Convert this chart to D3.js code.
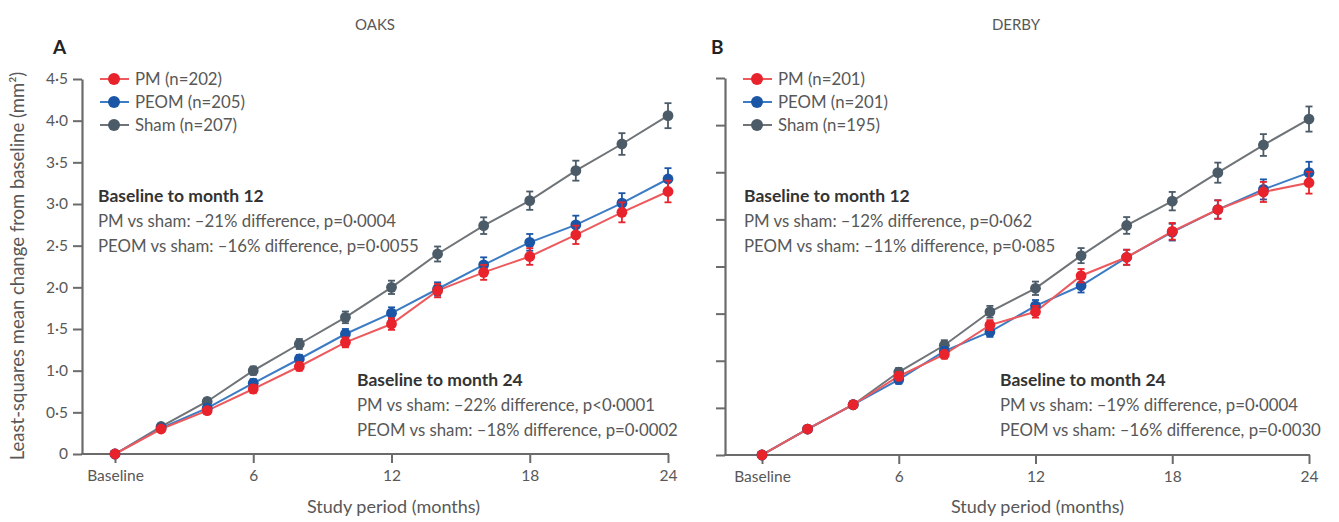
<!DOCTYPE html>
<html>
<head>
<meta charset="utf-8">
<script src="https://cdn.jsdelivr.net/npm/d3@7"></script>
<style>
  html, body { margin: 0; padding: 0; background: #fff; }
  svg { display: block; }
  text { font-family: Lato, "Open Sans", sans-serif; }
</style>
</head>
<body>
<svg id="chart" width="1339" height="522"></svg>
<script>
// ---------- data ----------
const months = [0, 2, 4, 6, 8, 10, 12, 14, 16, 18, 20, 22, 24];
const xTickValues = [0, 6, 12, 18, 24];
const xTickLabels = ["Baseline", "6", "12", "18", "24"];
const yTickValues = [0, 0.5, 1, 1.5, 2, 2.5, 3, 3.5, 4, 4.5];
const yTickLabels = ["0", "0·5", "1·0", "1·5", "2·0", "2·5", "3·0", "3·5", "4·0", "4·5"];
const yTickValuesB = [0, 0.5, 1, 1.5, 2, 2.5, 3, 3.5, 4];

const seriesNames = ["PM", "PEOM", "Sham"];

// OAKS (panel A)
const oaksPM   = [0, 0.30, 0.52, 0.78, 1.05, 1.34, 1.56, 1.96, 2.18, 2.37, 2.63, 2.90, 3.15];
const oaksPEOM = [0, 0.31, 0.55, 0.85, 1.14, 1.44, 1.69, 1.98, 2.27, 2.54, 2.75, 3.01, 3.30];
const oaksSham = [0, 0.33, 0.63, 1.00, 1.32, 1.64, 2.00, 2.40, 2.74, 3.04, 3.40, 3.72, 4.06];
const oaksN = [202, 205, 207];

// DERBY (panel B)
const derbyPM   = [0, 0.31, 0.60, 0.94, 1.20, 1.55, 1.71, 2.14, 2.36, 2.67, 2.93, 3.14, 3.25];
const derbyPEOM = [0, 0.31, 0.60, 0.90, 1.24, 1.47, 1.78, 2.02, 2.36, 2.66, 2.93, 3.17, 3.37];
const derbySham = [0, 0.31, 0.60, 0.99, 1.31, 1.71, 1.99, 2.38, 2.74, 3.03, 3.37, 3.70, 4.01];
const derbyN = [201, 201, 195];

// standard errors (error bars)
const sePM   = [0, 0.03, 0.04, 0.05, 0.05, 0.06, 0.07, 0.08, 0.09, 0.10, 0.11, 0.12, 0.13];
const sePEOM = [0, 0.03, 0.04, 0.05, 0.05, 0.06, 0.07, 0.08, 0.09, 0.10, 0.11, 0.12, 0.13];
const seSham = [0, 0.03, 0.04, 0.05, 0.06, 0.07, 0.08, 0.09, 0.10, 0.11, 0.12, 0.13, 0.15];

const oaksNotes12 = ["Baseline to month 12", "PM vs sham: –21% difference, p=0·0004", "PEOM vs sham: –16% difference, p=0·0055"];
const oaksNotes24 = ["Baseline to month 24", "PM vs sham: –22% difference, p<0·0001", "PEOM vs sham: –18% difference, p=0·0002"];
const derbyNotes12 = ["Baseline to month 12", "PM vs sham: –12% difference, p=0·062", "PEOM vs sham: –11% difference, p=0·085"];
const derbyNotes24 = ["Baseline to month 24", "PM vs sham: –19% difference, p=0·0004", "PEOM vs sham: –16% difference, p=0·0030"];

// ---------- styles ----------
const markerColors = ["#e8232b", "#1b56a6", "#4b5b68"];
const lineColors   = ["#ec5a5e", "#3b7cc4", "#6f7478"];
const axisColor = "#6b6b6b";
const textColor = "#585858";

const svg = d3.select("#chart");

function drawPanel(cfg) {
  const g = svg.append("g");
  const x = d3.scaleLinear().domain([0, 24]).range([cfg.x0, cfg.x24]);
  const y = d3.scaleLinear().domain([0, 4.5]).range([cfg.yBottom, cfg.yTop45]);

  // panel title & letter
  g.append("text").attr("x", cfg.titleX).attr("y", 30).attr("text-anchor", "middle")
    .attr("font-size", 15).attr("fill", textColor).text(cfg.title);
  g.append("text").attr("x", cfg.letterX).attr("y", 54).attr("font-size", 19)
    .attr("font-weight", "bold").attr("fill", "#222").text(cfg.letter);

  // y axis
  const yAxisScale = cfg.showLabels ? y
    : d3.scaleLinear().domain([0, 4]).range([cfg.yBottom, cfg.yTop45]);
  const yAxis = d3.axisLeft(yAxisScale)
    .tickValues(cfg.showLabels ? yTickValues : yTickValuesB)
    .tickSize(9).tickSizeOuter(0)
    .tickFormat((d, i) => cfg.showLabels ? yTickLabels[i] : "");
  const ya = g.append("g").attr("transform", `translate(${cfg.axisX},0)`).call(yAxis);
  ya.select(".domain").attr("stroke", axisColor).attr("stroke-width", 2.2);
  ya.selectAll(".tick line").attr("stroke", axisColor).attr("stroke-width", 2);
  ya.selectAll(".tick text").attr("font-size", 15.5).attr("fill", textColor)
    .attr("font-family", "Lato, sans-serif").attr("dx", -2);

  // x axis
  g.append("line")
    .attr("x1", cfg.axisX - 1).attr("x2", x(24) + 1)
    .attr("y1", cfg.yBottom).attr("y2", cfg.yBottom)
    .attr("stroke", axisColor).attr("stroke-width", 2.2);
  const xAxis = d3.axisBottom(x).tickValues(xTickValues).tickSize(9).tickSizeOuter(0)
    .tickFormat((d, i) => xTickLabels[i]);
  const xa = g.append("g").attr("transform", `translate(0,${cfg.yBottom})`).call(xAxis);
  xa.select(".domain").remove();
  xa.selectAll(".tick line").attr("stroke", axisColor).attr("stroke-width", 2);
  xa.selectAll(".tick text").attr("font-size", 15.5).attr("fill", textColor)
    .attr("font-family", "Lato, sans-serif").attr("dy", "0.95em");

  g.append("text").attr("x", (x(0) + x(24)) / 2 + 2).attr("y", 513).attr("text-anchor", "middle")
    .attr("font-size", 18).attr("fill", textColor).text("Study period (months)");

  // series
  const data = [cfg.pm, cfg.peom, cfg.sham];
  const ses = [sePM, sePEOM, seSham];
  const line = d3.line().x((d, i) => x(months[i])).y(d => y(d));
  const drawOrder = [2, 1, 0];
  drawOrder.forEach(si => {
    g.append("path").datum(data[si]).attr("d", line).attr("fill", "none")
      .attr("stroke", lineColors[si]).attr("stroke-width", 2);
  });
  drawOrder.forEach(si => {
    const sg = g.append("g");
    const pts = data[si].map((v, i) => ({ m: months[i], v, e: ses[si][i] }));
    const eb = sg.selectAll(".eb").data(pts.filter(p => p.e > 0)).enter().append("g");
    eb.append("line").attr("x1", d => x(d.m)).attr("x2", d => x(d.m))
      .attr("y1", d => y(d.v - d.e)).attr("y2", d => y(d.v + d.e))
      .attr("stroke", markerColors[si]).attr("stroke-width", 1.8);
    [-1, 1].forEach(s => {
      eb.append("line").attr("x1", d => x(d.m) - 3.5).attr("x2", d => x(d.m) + 3.5)
        .attr("y1", d => y(d.v + s * d.e)).attr("y2", d => y(d.v + s * d.e))
        .attr("stroke", markerColors[si]).attr("stroke-width", 1.8);
    });
    sg.selectAll("circle").data(pts).enter().append("circle")
      .attr("cx", d => x(d.m)).attr("cy", d => y(d.v)).attr("r", 5.4)
      .attr("fill", markerColors[si]);
  });

  // legend
  const legY = [79, 102, 125];
  seriesNames.forEach((nm, i) => {
    const lg = g.append("g");
    lg.append("line").attr("x1", cfg.legX - 14).attr("x2", cfg.legX + 15)
      .attr("y1", legY[i]).attr("y2", legY[i]).attr("stroke", lineColors[i]).attr("stroke-width", 2);
    lg.append("circle").attr("cx", cfg.legX).attr("cy", legY[i]).attr("r", 6).attr("fill", markerColors[i]);
    lg.append("text").attr("x", cfg.legX + 21).attr("y", legY[i] + 5.5).attr("font-size", 16.8)
      .attr("fill", textColor).text(`${nm} (n=${cfg.n[i]})`);
  });

  // annotations
  function notes(lines, nx, ny) {
    lines.forEach((t, i) => {
      g.append("text").attr("x", nx).attr("y", ny + i * 25)
        .attr("font-size", i === 0 ? 17.5 : 16.8).attr("font-weight", i === 0 ? "bold" : "normal")
        .attr("fill", i === 0 ? "#333" : textColor).text(t);
    });
  }
  notes(cfg.notes12, cfg.n12x, 202);
  notes(cfg.notes24, cfg.n24x, 386);
}

drawPanel({
  title: "OAKS", titleX: 375, letter: "A", letterX: 53,
  axisX: 82, x0: 115, x24: 668, yBottom: 454, yTop45: 79,
  showLabels: true, pm: oaksPM, peom: oaksPEOM, sham: oaksSham, n: oaksN,
  legX: 114, notes12: oaksNotes12, notes24: oaksNotes24, n12x: 98, n24x: 357
});
drawPanel({
  title: "DERBY", titleX: 1016, letter: "B", letterX: 711,
  axisX: 725, x0: 762, x24: 1309, yBottom: 455, yTop45: 78,
  showLabels: false, pm: derbyPM, peom: derbyPEOM, sham: derbySham, n: derbyN,
  legX: 757, notes12: derbyNotes12, notes24: derbyNotes24, n12x: 744, n24x: 1000
});

// y axis title
svg.append("text").attr("transform", "translate(24,266) rotate(-90)")
  .attr("text-anchor", "middle").attr("font-size", 18.5).attr("fill", textColor)
  .text("Least-squares mean change from baseline (mm²)");
</script>
</body>
</html>
